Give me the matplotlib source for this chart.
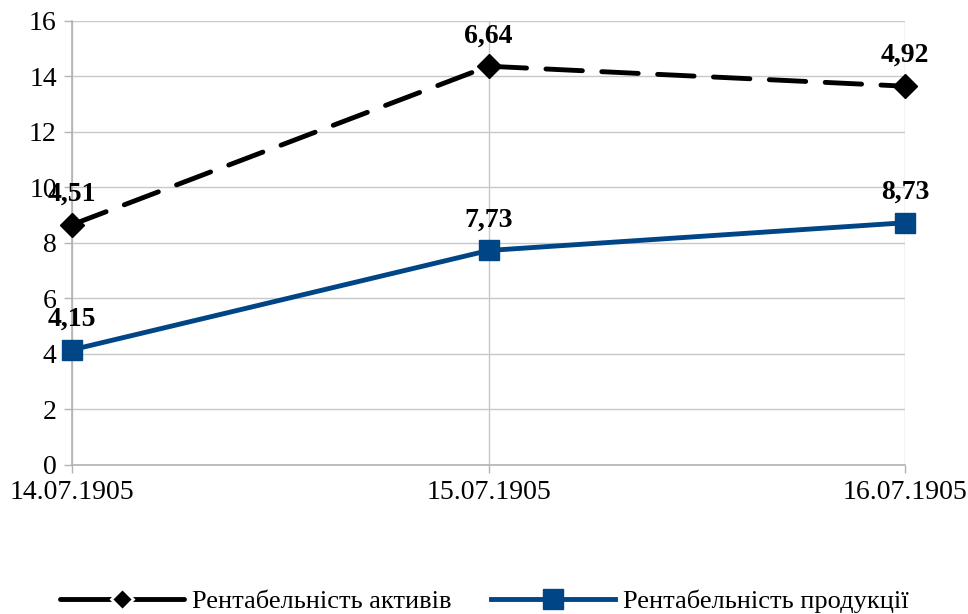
import matplotlib

matplotlib.use("Agg")
import matplotlib.pyplot as plt
from matplotlib.lines import Line2D
import numpy as np

DATES = ["14.07.1905", "15.07.1905", "16.07.1905"]
PRODUCT = [4.15, 7.73, 8.73]   # Рентабельність продукції
ASSETS = [4.51, 6.64, 4.92]    # Рентабельність активів (stacked on top)

BLUE = "#004586"

plt.rcParams["font.family"] = ["Liberation Serif", "DejaVu Serif"]

fig = plt.figure(figsize=(9.68, 6.14), dpi=100)
ax = fig.add_axes([0.0744, 0.2427, 0.8606, 0.7231])

x = np.arange(len(DATES))
stacked = np.array(PRODUCT) + np.array(ASSETS)

ax.plot(x, stacked, color="black", lw=3.5, dashes=(7.5, 4),
        dash_capstyle="round", marker="D", ms=12, clip_on=False, zorder=3)
l2, = ax.plot(x, PRODUCT, color=BLUE, lw=3.5, marker="s", ms=14, clip_on=False,
              label="Рентабельність продукції", zorder=3)

for xi, y, v in zip(x, stacked, ASSETS):
    ax.annotate(f"{v:.2f}".replace(".", ","), (xi, y), textcoords="offset points",
                xytext=(0, 22), ha="center", va="center", fontsize=20,
                fontweight="bold", annotation_clip=False)
for xi, y, v in zip(x, PRODUCT, PRODUCT):
    ax.annotate(f"{v:.2f}".replace(".", ","), (xi, y), textcoords="offset points",
                xytext=(0, 22), ha="center", va="center", fontsize=20,
                fontweight="bold", annotation_clip=False)

ax.set_xlim(0, 2)
ax.set_ylim(0, 16)
ax.set_yticks(range(0, 17, 2))
ax.set_xticks(x, DATES)
ax.tick_params(axis="both", labelsize=20, color="#b3b3b3", length=6, width=1, pad=5)
ax.grid(True, color="#c8c8c8", lw=1)
ax.set_axisbelow(True)
for side in ["top", "right"]:
    ax.spines[side].set_visible(False)
for side in ["left", "bottom"]:
    ax.spines[side].set_color("#b3b3b3")
    ax.spines[side].set_linewidth(1.2)

# legend proxy: solid line with a small gap around the diamond, as in the original
l1 = Line2D([], [], color="black", lw=3.5, solid_capstyle="round", marker="D",
            ms=11, mec="white", mew=2, label="Рентабельність активів")

fig.legend(handles=[l1, l2], loc="center", bbox_to_anchor=(0.5, 0.02), ncol=2,
           frameon=False, fontsize=19, handlelength=4.7, columnspacing=1.5,
           handletextpad=0.3)

fig.savefig("out.png", dpi=100)
